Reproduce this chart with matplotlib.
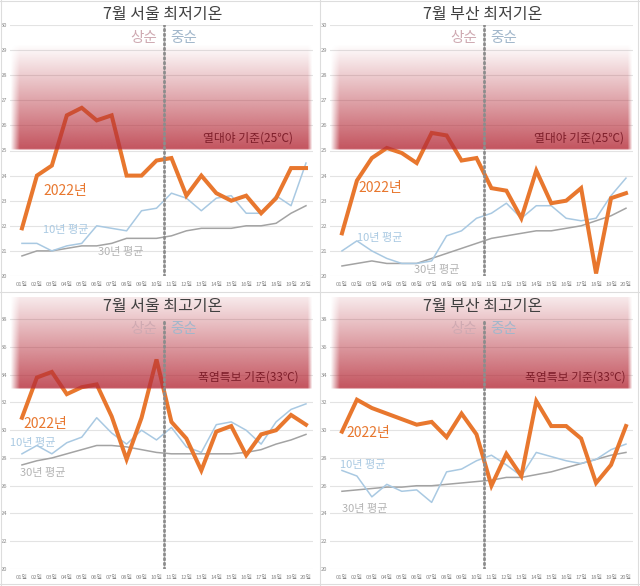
import numpy as np
import matplotlib
matplotlib.use("Agg")
import matplotlib.pyplot as plt
from matplotlib.lines import Line2D

plt.rcParams['font.family'] = ['Noto Sans CJK KR', 'DejaVu Sans']

days = list(range(1, 21))
day_labels = [f"{d:02d}일" for d in days]

titles = ["7월 서울 최저기온", "7월 부산 최저기온", "7월 서울 최고기온", "7월 부산 최고기온"]
thresh_labels = ["열대야 기준(25℃)", "열대야 기준(25℃)", "폭염특보 기준(33℃)", "폭염특보 기준(33℃)"]
thresholds = [25, 25, 33, 33]

seoul_min_2022 = [21.9, 24.0, 24.4, 26.4, 26.7, 26.2, 26.4, 24.0, 24.0, 24.6,
                  24.7, 23.2, 24.0, 23.3, 23.0, 23.2, 22.5, 23.1, 24.3, 24.3]
seoul_min_10y = [21.3, 21.3, 21.0, 21.2, 21.3, 22.0, 21.9, 21.8, 22.6, 22.7,
                 23.3, 23.1, 22.6, 23.1, 23.2, 22.5, 22.5, 23.2, 22.8, 24.5]
seoul_min_30y = [20.8, 21.0, 21.0, 21.1, 21.2, 21.2, 21.3, 21.5, 21.5, 21.5,
                 21.6, 21.8, 21.9, 21.9, 21.9, 22.0, 22.0, 22.1, 22.5, 22.8]

busan_min_2022 = [21.7, 23.8, 24.7, 25.1, 24.9, 24.5, 25.7, 25.6, 24.6, 24.7,
                  23.5, 23.4, 22.3, 24.2, 22.9, 23.0, 23.5, 20.1, 23.1, 23.3]
busan_min_10y = [21.0, 21.4, 21.0, 20.7, 20.5, 20.5, 20.6, 21.6, 21.8, 22.3,
                 22.5, 22.9, 22.3, 22.8, 22.8, 22.3, 22.2, 22.3, 23.2, 23.9]
busan_min_30y = [20.4, 20.5, 20.6, 20.5, 20.5, 20.5, 20.7, 20.9, 21.1, 21.3,
                 21.5, 21.6, 21.7, 21.8, 21.8, 21.9, 22.0, 22.2, 22.4, 22.7]

seoul_max_2022 = [30.9, 33.8, 34.2, 32.6, 33.1, 33.3, 31.0, 27.9, 30.9, 35.1,
                  30.6, 29.4, 27.1, 29.9, 30.3, 28.2, 29.7, 30.0, 31.1, 30.4]
seoul_max_10y = [28.3, 28.9, 28.3, 29.1, 29.5, 30.9, 29.8, 29.0, 30.0, 29.3,
                 30.2, 28.8, 28.4, 30.4, 30.6, 30.0, 29.0, 30.6, 31.5, 31.9]
seoul_max_30y = [27.5, 27.8, 28.0, 28.3, 28.6, 28.9, 28.9, 28.8, 28.6, 28.4,
                 28.3, 28.3, 28.3, 28.3, 28.3, 28.4, 28.6, 29.0, 29.3, 29.7]

busan_max_2022 = [29.9, 32.2, 31.6, 31.2, 30.8, 30.4, 30.6, 29.5, 31.2, 29.7,
                  26.0, 28.3, 26.7, 32.1, 30.3, 30.3, 29.4, 26.2, 27.5, 30.3]
busan_max_10y = [27.1, 26.7, 25.2, 26.1, 25.6, 25.7, 24.8, 27.0, 27.2, 27.8,
                 28.2, 27.5, 26.7, 28.4, 28.1, 27.8, 27.6, 27.9, 28.6, 29.0]
busan_max_30y = [25.6, 25.7, 25.8, 25.9, 25.9, 26.0, 26.0, 26.1, 26.2, 26.3,
                 26.4, 26.6, 26.6, 26.8, 27.0, 27.3, 27.6, 27.9, 28.2, 28.4]

series = [
    (seoul_min_2022, seoul_min_10y, seoul_min_30y),
    (busan_min_2022, busan_min_10y, busan_min_30y),
    (seoul_max_2022, seoul_max_10y, seoul_max_30y),
    (busan_max_2022, busan_max_10y, busan_max_30y),
]

lbl_2022 = "2022년"
lbl_10y = "10년 평균"
lbl_30y = "30년 평균"
lbl_early = "상순"
lbl_mid = "중순"

# label positions (x = left edge in day units, y in data)
label_pos = [
    {"2022": (2.45, 23.4), "10y": (2.4, 21.85), "30y": (6.1, 20.95), "thr": (19.15, 25.5)},
    {"2022": (2.1, 23.5), "10y": (2.0, 21.5), "30y": (5.8, 20.25), "thr": (19.9, 25.5)},
    {"2022": (1.1, 30.45), "10y": (0.2, 29.1), "30y": (0.9, 26.9), "thr": (19.5, 33.8)},
    {"2022": (1.3, 29.8), "10y": (0.9, 27.5), "30y": (1.0, 24.3), "thr": (20.0, 33.8)},
]

W, H = 640, 586
fig = plt.figure(figsize=(6.4, 5.86), dpi=100)

C_2022 = "#E8772E"
C_10 = "#A9C9E2"
C_30 = "#A3A3A3"
C_10_txt = "#A9C9E2"
C_30_txt = "#B3B3B3"
C_title = "#404040"
C_thr = "#7E1E2A"

def px_rect(x0, x1, ytop, ybot):
    return [x0 / W, 1 - ybot / H, (x1 - x0) / W, (ybot - ytop) / H]

panel_offsets = [(0, 0), (320, 0), (0, 292), (320, 292)]

for i in range(4):
    ox, oy = panel_offsets[i]
    top_panel = i < 2
    if top_panel:
        ylim = (20, 30)
        ax = fig.add_axes(px_rect(ox + 10, ox + 313, oy + 25, oy + 276))
        yticks = list(range(20, 31))
        band_lo, band_hi = 25, 29.2
        a_lo, a_hi = 0.82, 0.0
        dot_top = 30
        early_y = 29.5
    else:
        ylim = (20, 39.6)
        ax = fig.add_axes(px_rect(ox + 10, ox + 313, oy + 5, oy + 277))
        yticks = list(range(20, 39, 2))
        band_lo, band_hi = 33, 39.6
        a_lo, a_hi = 0.82, 0.1
        dot_top = 38
        early_y = 37.3
    xl = (0.2, 20.47)
    ax.set_xlim(*xl)
    ax.set_ylim(*ylim)
    ax.set_yticks(yticks)
    ax.set_xticks(days)
    ax.set_xticklabels(day_labels)
    ax.tick_params(axis='both', length=0, labelsize=4.2, colors="#8A8A8A")
    ax.tick_params(axis='x', pad=4)
    ax.tick_params(axis='y', pad=2)
    ax.grid(axis='y', color="#E3E3E3", lw=0.8)
    ax.set_axisbelow(True)
    for s in ax.spines.values():
        s.set_visible(False)

    y22, y10, y30 = series[i]
    ax.plot(days, y30, color=C_30, lw=1.1, zorder=2)
    ax.plot(days, y10, color=C_10, lw=1.1, zorder=2)
    ax.plot(days, y22, color=C_2022, lw=2.9, zorder=3, solid_joinstyle='miter')

    # gradient band
    nr, nc = 300, 200
    t = np.linspace(0, 1, nr)[:, None]
    alpha = a_lo + (a_hi - a_lo) * t
    alpha = alpha * np.clip(t / 0.012, 0, 1) ** 0.5
    xs = np.linspace(0, 1, nc)[None, :]
    edge = np.clip(xs / 0.03, 0, 1) * np.clip((1 - xs) / 0.015, 0, 1)
    alpha = alpha * edge
    img = np.zeros((nr, nc, 4))
    img[..., 0] = 182 / 255
    img[..., 1] = 45 / 255
    img[..., 2] = 58 / 255
    img[..., 3] = alpha
    ax.imshow(img, extent=(xl[0], xl[1], band_lo, band_hi), origin='lower',
              aspect='auto', zorder=4, interpolation='bilinear')

    # dotted separator
    ax.plot([10.5, 10.5], [ylim[0], dot_top], color="#8C8C8C", lw=2.0,
            linestyle=(0, (0.6, 1.1)), dash_capstyle='round', zorder=5)

    lp = label_pos[i]
    ax.text(10.05, early_y, lbl_early, ha='right', va='center', fontsize=10.5,
            color="#CFAAB2", zorder=6)
    ax.text(10.9, early_y, lbl_mid, ha='left', va='center', fontsize=10.5,
            color="#A2B7CB", zorder=6)
    ax.text(*lp["2022"], lbl_2022, ha='left', va='center', fontsize=10,
            color=C_2022, zorder=6)
    ax.text(*lp["10y"], lbl_10y, ha='left', va='center', fontsize=8,
            color=C_10_txt, zorder=6)
    ax.text(*lp["30y"], lbl_30y, ha='left', va='center', fontsize=8,
            color=C_30_txt, zorder=6)
    ax.text(*lp["thr"], thresh_labels[i], ha='right', va='center', fontsize=8.5,
            color=C_thr, zorder=6)

    # title
    fig.text((ox + 163) / W, 1 - (oy + 14) / H, titles[i], ha='center',
             va='center', fontsize=11.5, color=C_title)

# panel borders
for x in [1, 320, 638]:
    fig.add_artist(Line2D([x / W, x / W], [0, 1], color="#DDDDDD", lw=0.8))
for y in [1, 292, 584]:
    fig.add_artist(Line2D([0, 1], [1 - y / H, 1 - y / H], color="#DDDDDD", lw=0.8))

fig.savefig("out.png", dpi=100)
